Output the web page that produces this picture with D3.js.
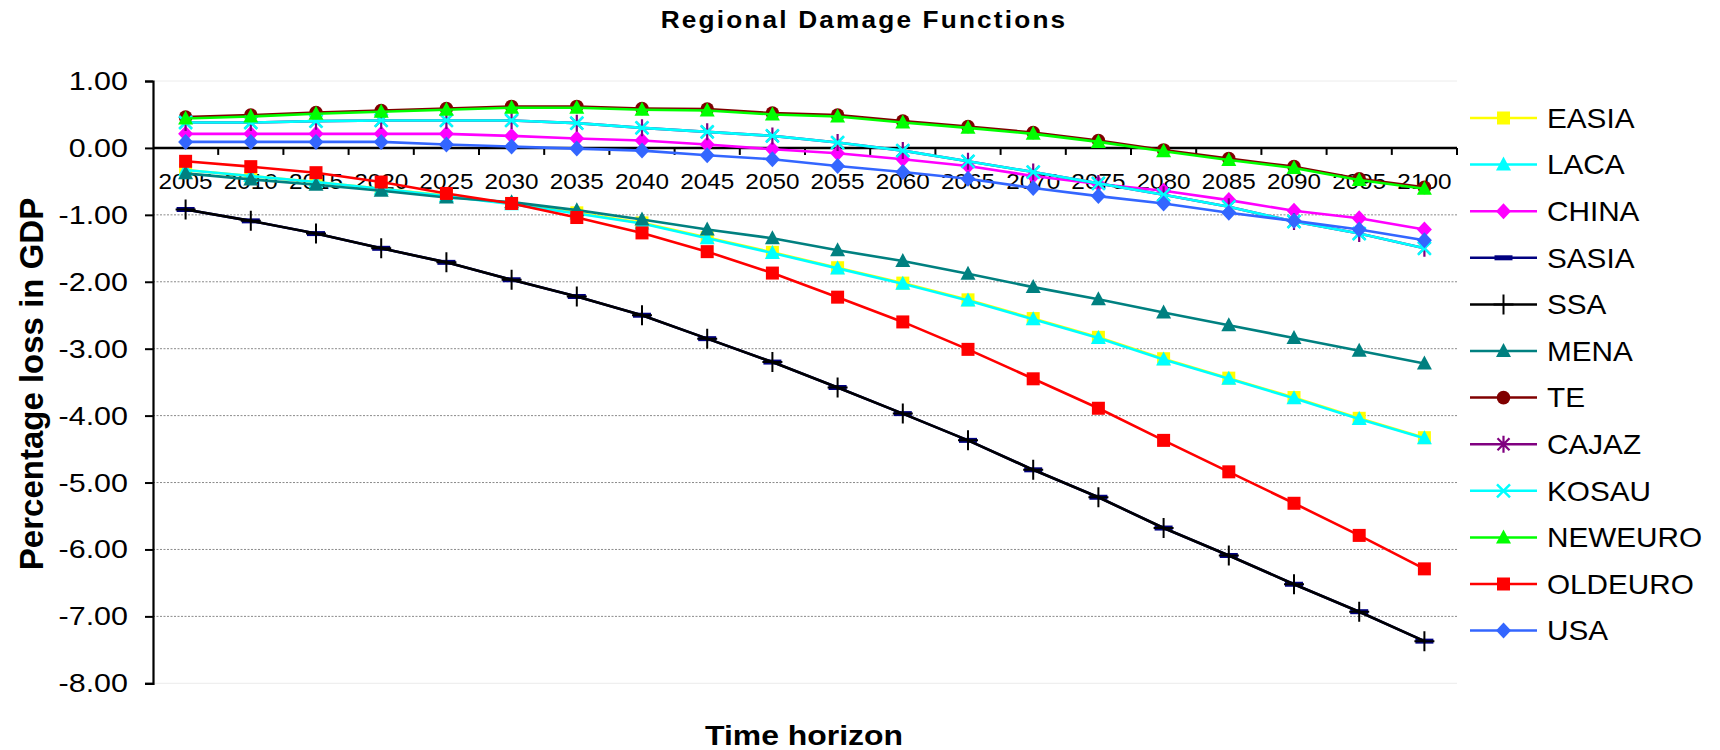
<!DOCTYPE html>
<html>
<head>
<meta charset="utf-8">
<script src="https://cdn.jsdelivr.net/npm/d3@7"></script>
<style>
  html, body { margin: 0; padding: 0; background: #fff; }
  svg { display: block; font-family: Arial, "Liberation Sans", sans-serif; }
</style>
</head>
<body>
<svg id="chart" width="1720" height="750"></svg>
<script>
// Time periods on the category axis
const years = ["2005","2010","2015","2020","2025","2030","2035","2040","2045","2050",
               "2055","2060","2065","2070","2075","2080","2085","2090","2095","2100"];

// Value-axis ticks
const yTicks = [1, 0, -1, -2, -3, -4, -5, -6, -7, -8];

// Regions, in legend / drawing order
const regions = ["EASIA","LACA","CHINA","SASIA","SSA","MENA","TE","CAJAZ","KOSAU","NEWEURO","OLDEURO","USA"];

// Percentage loss in GDP per region
const EASIA   = [-0.33,-0.42,-0.51,-0.61,-0.71,-0.83,-0.97,-1.12,-1.34,-1.56,-1.79,-2.02,-2.27,-2.55,-2.83,-3.15,-3.44,-3.73,-4.04,-4.33];
const LACA    = [-0.33,-0.42,-0.51,-0.61,-0.72,-0.84,-0.98,-1.13,-1.35,-1.57,-1.80,-2.03,-2.28,-2.56,-2.84,-3.16,-3.45,-3.74,-4.05,-4.34];
const CHINA   = [0.21,0.21,0.21,0.21,0.21,0.18,0.14,0.11,0.05,-0.02,-0.08,-0.17,-0.27,-0.42,-0.54,-0.64,-0.78,-0.94,-1.05,-1.22];
const SASIA   = [-0.92,-1.09,-1.28,-1.50,-1.71,-1.97,-2.22,-2.50,-2.85,-3.20,-3.58,-3.97,-4.37,-4.81,-5.22,-5.68,-6.09,-6.52,-6.93,-7.37];
const SSA     = [-0.92,-1.09,-1.28,-1.50,-1.71,-1.97,-2.22,-2.50,-2.85,-3.20,-3.58,-3.97,-4.37,-4.81,-5.22,-5.68,-6.09,-6.52,-6.93,-7.37];
const MENA    = [-0.38,-0.47,-0.55,-0.64,-0.74,-0.81,-0.93,-1.07,-1.22,-1.35,-1.53,-1.69,-1.88,-2.08,-2.26,-2.46,-2.65,-2.84,-3.03,-3.22];
const TE      = [0.46,0.49,0.53,0.56,0.59,0.62,0.62,0.59,0.58,0.52,0.49,0.40,0.32,0.23,0.11,-0.03,-0.16,-0.28,-0.46,-0.59];
const CAJAZ   = [0.38,0.38,0.40,0.41,0.41,0.41,0.37,0.30,0.24,0.18,0.08,-0.04,-0.20,-0.36,-0.53,-0.70,-0.88,-1.10,-1.28,-1.50];
const KOSAU   = [0.38,0.38,0.40,0.41,0.41,0.41,0.37,0.30,0.24,0.18,0.08,-0.04,-0.20,-0.36,-0.53,-0.70,-0.88,-1.10,-1.28,-1.50];
const NEWEURO = [0.44,0.47,0.51,0.54,0.57,0.60,0.60,0.57,0.56,0.50,0.47,0.38,0.30,0.21,0.09,-0.05,-0.18,-0.30,-0.48,-0.61];
const OLDEURO = [-0.20,-0.28,-0.37,-0.51,-0.68,-0.83,-1.04,-1.27,-1.55,-1.87,-2.23,-2.60,-3.01,-3.45,-3.89,-4.37,-4.84,-5.31,-5.79,-6.29];
const USA     = [0.09,0.09,0.09,0.09,0.05,0.02,-0.01,-0.04,-0.11,-0.17,-0.27,-0.36,-0.46,-0.60,-0.72,-0.83,-0.97,-1.09,-1.22,-1.38];

const seriesValues = { EASIA, LACA, CHINA, SASIA, SSA, MENA, TE, CAJAZ, KOSAU, NEWEURO, OLDEURO, USA };

// Line colour and marker shape for each region
const styles = {
  EASIA:   { color: "#FFFF00", marker: "square" },
  LACA:    { color: "#00FFFF", marker: "triangle" },
  CHINA:   { color: "#FF00FF", marker: "diamond" },
  SASIA:   { color: "#000080", marker: "dash" },
  SSA:     { color: "#000000", marker: "plus" },
  MENA:    { color: "#008080", marker: "triangle" },
  TE:      { color: "#800000", marker: "circle" },
  CAJAZ:   { color: "#800080", marker: "star" },
  KOSAU:   { color: "#00FFFF", marker: "cross" },
  NEWEURO: { color: "#00FF00", marker: "triangle" },
  OLDEURO: { color: "#FF0000", marker: "square" },
  USA:     { color: "#3366FF", marker: "diamond" }
};

const svg = d3.select("#chart");
const STRETCH = 1.14; // the chart's lettering is set slightly wide

// widen a text element horizontally around its anchor x
function widen(sel, s = STRETCH) {
  sel.each(function () {
    const t = d3.select(this);
    const ax = +(t.attr("x") || 0);
    const prev = t.attr("transform") || "";
    t.attr("transform", `${prev} translate(${ax},0) scale(${s},1) translate(${-ax},0)`);
  });
}

const plot = { left: 153, right: 1457, top: 81, bottom: 683.3 };

const x = d3.scaleBand().domain(years).range([plot.left, plot.right]).padding(0);
const y = d3.scaleLinear().domain([-8, 1]).range([plot.bottom, plot.top]);
const cx = d => x(d) + x.bandwidth() / 2;

// Title
svg.append("text")
  .attr("x", 864).attr("y", 28)
  .attr("text-anchor", "middle")
  .attr("font-size", 23).attr("font-weight", "bold")
  .attr("letter-spacing", 1.9)
  .text("Regional Damage Functions")
  .call(widen);

// Horizontal gridlines
svg.append("g").selectAll("line")
  .data(yTicks.filter(v => v !== 0))
  .join("line")
  .attr("x1", plot.left).attr("x2", plot.right)
  .attr("y1", d => y(d)).attr("y2", d => y(d))
  .attr("stroke", d => (d === 1 || d === -8) ? "#ececec" : "#8a8a8a")
  .attr("stroke-width", 1)
  .attr("stroke-dasharray", d => (d === 1 || d === -8) ? null : "2,1.5");

// Value axis
const yAxis = svg.append("g")
  .attr("transform", `translate(${plot.left},0)`)
  .call(d3.axisLeft(y).tickValues(yTicks).tickFormat(d => d.toFixed(2)).tickSizeOuter(0).tickSize(8).tickPadding(17));
yAxis.select(".domain").attr("stroke", "#000").attr("stroke-width", 2.2);
yAxis.selectAll(".tick line").attr("stroke", "#000").attr("stroke-width", 2);
yAxis.selectAll(".tick text")
  .attr("font-size", 26.5).attr("fill", "#000").attr("font-family", "Arial, 'Liberation Sans', sans-serif")
  .call(widen, 1.15);

// Category axis drawn across the zero line
const zeroY = y(0);
const xAxis = svg.append("g").attr("transform", `translate(0,${zeroY})`);
xAxis.append("line")
  .attr("x1", plot.left).attr("x2", plot.right)
  .attr("y1", 0).attr("y2", 0)
  .attr("stroke", "#000").attr("stroke-width", 2.5);
xAxis.selectAll("line.tick")
  .data(years)
  .join("line")
  .attr("class", "tick")
  .attr("x1", d => x(d) + x.bandwidth()).attr("x2", d => x(d) + x.bandwidth())
  .attr("y1", 0).attr("y2", 7)
  .attr("stroke", "#000").attr("stroke-width", 2);
xAxis.selectAll("text")
  .data(years)
  .join("text")
  .attr("x", d => cx(d)).attr("y", 41)
  .attr("text-anchor", "middle")
  .attr("font-size", 21.5).attr("fill", "#000")
  .text(d => d)
  .call(widen, 1.13);

// Axis titles
svg.append("text")
  .attr("transform", "translate(43,384) rotate(-90)")
  .attr("text-anchor", "middle")
  .attr("font-size", 33).attr("font-weight", "bold")
  .text("Percentage loss in GDP");

svg.append("text")
  .attr("x", 804).attr("y", 745)
  .attr("text-anchor", "middle")
  .attr("font-size", 28).attr("font-weight", "bold")
  .text("Time horizon")
  .call(widen);

// Marker drawing
function drawMarker(g, kind, color, px, py) {
  switch (kind) {
    case "square":
      g.append("rect").attr("x", px - 6.5).attr("y", py - 6.5).attr("width", 13).attr("height", 13).attr("fill", color);
      break;
    case "triangle":
      g.append("path").attr("d", `M${px},${py - 8}L${px + 7.5},${py + 6}L${px - 7.5},${py + 6}Z`).attr("fill", color);
      break;
    case "diamond":
      g.append("path").attr("d", `M${px},${py - 8}L${px + 7.5},${py}L${px},${py + 8}L${px - 7.5},${py}Z`).attr("fill", color);
      break;
    case "circle":
      g.append("circle").attr("cx", px).attr("cy", py).attr("r", 6.8).attr("fill", color);
      break;
    case "dash":
      g.append("rect").attr("x", px - 9).attr("y", py - 2.5).attr("width", 18).attr("height", 5).attr("fill", color);
      break;
    case "plus":
      g.append("path").attr("d", `M${px - 10},${py}H${px + 10}M${px},${py - 10}V${py + 10}`)
        .attr("stroke", color).attr("stroke-width", 2).attr("fill", "none");
      break;
    case "cross":
      g.append("path").attr("d", `M${px - 6.5},${py - 6.5}L${px + 6.5},${py + 6.5}M${px - 6.5},${py + 6.5}L${px + 6.5},${py - 6.5}`)
        .attr("stroke", color).attr("stroke-width", 2.5).attr("fill", "none");
      break;
    case "star":
      g.append("path").attr("d", `M${px - 6},${py - 6}L${px + 6},${py + 6}M${px - 6},${py + 6}L${px + 6},${py - 6}M${px},${py - 8.5}V${py + 8.5}`)
        .attr("stroke", color).attr("stroke-width", 2.2).attr("fill", "none");
      break;
  }
}

// Series: line then markers, in order
const line = d3.line().x((d, i) => cx(years[i])).y(d => y(d));
const seriesLayer = svg.append("g");
regions.forEach(name => {
  const st = styles[name];
  const vals = seriesValues[name];
  const g = seriesLayer.append("g");
  g.append("path")
    .attr("d", line(vals))
    .attr("fill", "none")
    .attr("stroke", st.color)
    .attr("stroke-width", 2.6)
    .attr("stroke-linejoin", "round");
  vals.forEach((v, i) => drawMarker(g, st.marker, st.color, cx(years[i]), y(v)));
});

// Legend
const legend = svg.append("g");
const legY0 = 118, legStep = 46.6;
regions.forEach((name, i) => {
  const st = styles[name];
  const ly = legY0 + i * legStep;
  legend.append("line")
    .attr("x1", 1470).attr("x2", 1537).attr("y1", ly).attr("y2", ly)
    .attr("stroke", st.color).attr("stroke-width", 2.5);
  drawMarker(legend, st.marker, st.color, 1503.5, ly);
  legend.append("text")
    .attr("x", 1547).attr("y", ly + 9.8)
    .attr("font-size", 27).attr("fill", "#000")
    .text(name)
    .call(widen, 1.1);
});
</script>
</body>
</html>
